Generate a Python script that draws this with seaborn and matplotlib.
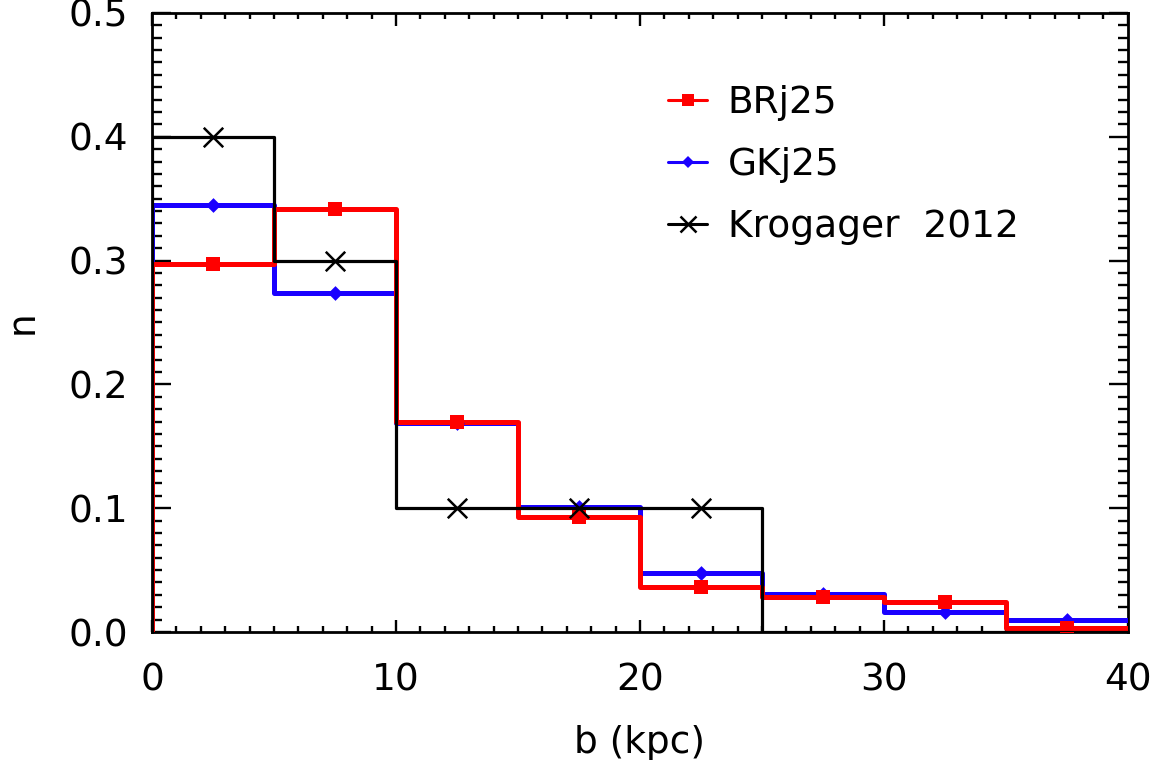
import numpy as np
import pandas as pd
import matplotlib
matplotlib.use("Agg")
import matplotlib.pyplot as plt
from matplotlib.lines import Line2D
from matplotlib.ticker import MultipleLocator, FormatStrFormatter
import seaborn as sns

# ---- data ----
bin_edges = [0, 5, 10, 15, 20, 25, 30, 35, 40]
bin_centers = [2.5, 7.5, 12.5, 17.5, 22.5, 27.5, 32.5, 37.5]
brj25 = [0.297, 0.342, 0.170, 0.093, 0.036, 0.028, 0.024, 0.003]
gkj25 = [0.345, 0.274, 0.169, 0.101, 0.048, 0.031, 0.016, 0.010]
krog = [0.400, 0.300, 0.100, 0.100, 0.100, 0.0, 0.0, 0.0]
krog_centers = [2.5, 7.5, 12.5, 17.5, 22.5]
krog_pts = [0.400, 0.300, 0.100, 0.100, 0.100]

sns.set_theme(style="ticks")
plt.rcParams['font.family'] = ['DejaVu Sans']
plt.rcParams['text.color'] = 'black'
plt.rcParams['axes.labelcolor'] = 'black'
plt.rcParams['xtick.color'] = 'black'
plt.rcParams['ytick.color'] = 'black'

fig = plt.figure(figsize=(11.58, 7.6), dpi=100)
ax = fig.add_axes([0.1313, 0.1684, 0.8427, 0.8146])

RED = "#ff0000"
BLUE = "#1a00ff"
FS = 27

def step_df(vals):
    xs = [bin_edges[0]] + list(bin_edges)
    ys = [0.0] + list(vals) + [vals[-1]]
    return pd.DataFrame({"x": xs, "y": ys})

series = [
    ("GKj25", gkj25, BLUE, 3.6, "D", 7.5),
    ("BRj25", brj25, RED, 3.6, "s", 10.5),
]
for name, vals, col, lw, mk, ms in series:
    d = step_df(vals)
    sns.lineplot(data=d, x="x", y="y", ax=ax, estimator=None, sort=False,
                 drawstyle="steps-post", color=col, linewidth=lw, zorder=3)
    dm = pd.DataFrame({"x": bin_centers, "y": vals})
    sns.scatterplot(data=dm, x="x", y="y", ax=ax, marker=mk, color=col,
                    s=ms**2, linewidth=0, zorder=4)

d = step_df(krog)
sns.lineplot(data=d, x="x", y="y", ax=ax, estimator=None, sort=False,
             drawstyle="steps-post", color="black", linewidth=2.3, zorder=5)
dm = pd.DataFrame({"x": krog_centers, "y": krog_pts})
sns.scatterplot(data=dm, x="x", y="y", ax=ax, marker="x", color="black",
                s=14**2, linewidth=1.8, zorder=6)

ax.set_xlim(0, 40)
ax.set_ylim(0, 0.5)
ax.xaxis.set_major_locator(MultipleLocator(10))
ax.xaxis.set_minor_locator(MultipleLocator(1))
ax.yaxis.set_major_locator(MultipleLocator(0.1))
ax.yaxis.set_minor_locator(MultipleLocator(0.01))
ax.yaxis.set_major_formatter(FormatStrFormatter("%.1f"))

ax.tick_params(axis="both", which="both", direction="in", top=True, right=True,
               color="black", labelcolor="black", labelsize=FS, width=1.7)
ax.tick_params(axis="x", which="major", length=9, pad=22)
ax.tick_params(axis="x", which="minor", length=4.5)
ax.tick_params(axis="y", which="major", length=13.5, pad=17)
ax.tick_params(axis="y", which="minor", length=7)
for sp in ax.spines.values():
    sp.set_linewidth(2.0)
    sp.set_color("black")
    sp.set_visible(True)

ax.set_xlabel("b (kpc)", fontsize=FS, labelpad=19)
ax.set_ylabel("n", fontsize=FS, labelpad=20)

handles = [
    Line2D([0], [0], color=RED, lw=2.2, marker="s", markersize=9, markeredgewidth=0),
    Line2D([0], [0], color=BLUE, lw=2.2, marker="D", markersize=6.5, markeredgewidth=0),
    Line2D([0], [0], color="black", lw=2.2, marker="x", markersize=11, markeredgewidth=1.8),
]
ax.legend(handles, ["BRj25", "GKj25", "Krogager  2012"], loc="upper left",
          bbox_to_anchor=(0.494, 0.938), frameon=False, fontsize=FS,
          handlelength=1.05, handletextpad=0.55, labelspacing=0.69)

fig.savefig("out.png", dpi=100)
